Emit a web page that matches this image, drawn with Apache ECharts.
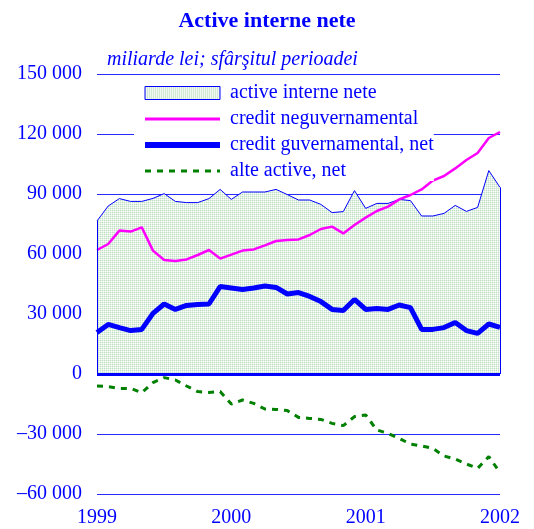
<!DOCTYPE html>
<html>
<head>
<meta charset="utf-8">
<script src="https://cdn.jsdelivr.net/npm/echarts@6/dist/echarts.min.js"></script>
<style>
html, body { margin: 0; padding: 0; background: #fff; }
#main { width: 534px; height: 529px; }
</style>
</head>
<body>
<div id="main"></div>
<script>
// luni: ian 1999 ... ian 2002
var months = [
	'1999-01', '1999-02', '1999-03', '1999-04', '1999-05', '1999-06', '1999-07', '1999-08', '1999-09', '1999-10', '1999-11', '1999-12',
	'2000-01', '2000-02', '2000-03', '2000-04', '2000-05', '2000-06', '2000-07', '2000-08', '2000-09', '2000-10', '2000-11', '2000-12',
	'2001-01', '2001-02', '2001-03', '2001-04', '2001-05', '2001-06', '2001-07', '2001-08', '2001-09', '2001-10', '2001-11', '2001-12',
	'2002-01'
];
var yTicks = [-60000, -30000, 0, 30000, 60000, 90000, 120000, 150000];

var activeNete = [76500, 84000, 87700, 86300, 86300, 87800, 90200, 86300, 85700, 85700, 87700, 92300,
	87300, 91000, 91000, 91000, 92300, 89700, 87000, 87000, 84800, 80700, 81200, 91700,
	82800, 85300, 85300, 87300, 86700, 79000, 79000, 80300, 84300, 81300, 83300, 101700, 93300];
var creditNeguv = [62000, 65000, 71700, 71200, 73300, 61700, 57000, 56500, 57300, 59500, 62000, 57700,
	59700, 61700, 62300, 64300, 66500, 67000, 67300, 69500, 72500, 73700, 70300, 74500,
	78200, 81500, 83700, 87300, 89500, 92300, 96700, 99000, 102800, 107000, 110500, 118000, 121000];
var creditGuv = [20700, 24800, 23200, 21700, 22300, 30300, 35000, 32300, 34300, 34800, 35000, 43700,
	43000, 42300, 43000, 44000, 43300, 40000, 40700, 38800, 36200, 32300, 31700, 37300,
	32300, 32800, 32300, 34500, 33200, 22300, 22300, 23200, 25800, 21700, 20300, 25000, 23300];
var alteActive = [-6000, -6300, -7200, -7200, -9300, -4300, -1800, -3000, -6000, -8800, -9200, -8800,
	-15000, -13000, -14700, -17500, -17700, -18300, -21700, -22200, -22700, -24700, -25800, -21300,
	-20500, -28000, -29700, -32200, -35000, -36000, -37200, -41000, -42500, -45000, -47200, -41300, -49300];

var names = ['active interne nete', 'credit neguvernamental', 'credit guvernamental, net', 'alte active, net'];

var blue = '#0000ff';
var serif = 'Liberation Serif';

// textura punctata pentru aria verde
var pc = document.createElement('canvas');
pc.width = 2;
pc.height = 2;
var pctx = pc.getContext('2d');
pctx.fillStyle = '#e4f2e5';
pctx.fillRect(0, 0, 2, 2);
pctx.fillStyle = '#bfe0c2';
pctx.fillRect(0, 0, 1, 1);
pctx.fillStyle = '#ffffff';
pctx.fillRect(1, 1, 1, 1);
var dots = { image: pc, repeat: 'repeat' };

function fmt(v) {
	var s = String(Math.abs(v));
	if (s.length > 3) {
		s = s.slice(0, s.length - 3) + ' ' + s.slice(s.length - 3);
	}
	return (v < 0 ? '\u2013' : '') + s;
}

var last = months.length - 1;
var noSymbol = { opacity: 0 };

var chart = echarts.init(document.getElementById('main'));
var option = {
	animation: false,
	title: [
		{
			text: 'Active interne nete',
			left: 'center',
			top: 5,
			textStyle: { fontFamily: serif, fontWeight: 'bold', fontSize: 22, color: blue }
		},
		{
			text: 'miliarde lei; sf\u00e2r\u015fitul perioadei',
			left: 102,
			top: 45,
			textStyle: { fontFamily: serif, fontStyle: 'italic', fontWeight: 'normal', fontSize: 20, color: blue }
		}
	],
	legend: {
		orient: 'vertical',
		left: 134,
		top: 80,
		padding: [3, 0, 0, 8],
		backgroundColor: '#fff',
		itemWidth: 75,
		itemHeight: 13,
		itemGap: 6,
		textStyle: { fontFamily: serif, fontSize: 20, color: blue, padding: [0, 0, 0, 5] },
		data: [
			{ name: names[0], icon: 'rect', itemStyle: { color: dots, borderColor: blue, borderWidth: 1 } },
			{ name: names[1], itemStyle: noSymbol, lineStyle: { width: 3 } },
			{ name: names[2], itemStyle: noSymbol, lineStyle: { width: 6 } },
			{ name: names[3], itemStyle: noSymbol, lineStyle: { width: 3 } }
		]
	},
	grid: { left: 97, right: 34, top: 74, bottom: 35 },
	xAxis: {
		type: 'category',
		data: months,
		boundaryGap: false,
		axisLine: { show: false },
		axisTick: { show: false },
		axisLabel: {
			interval: 11,
			margin: 14,
			fontFamily: serif,
			fontSize: 20,
			color: blue,
			formatter: function (v) { return v.slice(0, 4); }
		},
		splitLine: { show: false }
	},
	yAxis: {
		type: 'value',
		min: yTicks[0],
		max: yTicks[yTicks.length - 1],
		interval: 30000,
		axisLine: { show: false },
		axisTick: { show: false },
		axisLabel: { margin: 15, fontFamily: serif, fontSize: 20, color: blue, formatter: fmt },
		splitLine: { lineStyle: { color: '#2a2aff', width: 1 } }
	},
	series: [
		{
			name: names[0],
			type: 'line',
			data: activeNete,
			symbol: 'none',
			lineStyle: { color: blue, width: 1 },
			itemStyle: { color: blue },
			areaStyle: { color: dots, opacity: 1 },
			markLine: {
				silent: true,
				symbol: 'none',
				label: { show: false },
				lineStyle: { color: blue, type: 'solid', width: 1 },
				data: [
					{ yAxis: 0, lineStyle: { width: 3 } },
					[{ coord: [months[0], 0] }, { coord: [months[0], activeNete[0]] }],
					[{ coord: [months[last], 0] }, { coord: [months[last], activeNete[last]] }]
				]
			}
		},
		{
			name: names[1],
			type: 'line',
			data: creditNeguv,
			symbol: 'none',
			lineStyle: { color: '#ff00ff', width: 2.5 },
			itemStyle: { color: '#ff00ff' }
		},
		{
			name: names[2],
			type: 'line',
			data: creditGuv,
			symbol: 'none',
			lineStyle: { color: blue, width: 5 },
			itemStyle: { color: blue }
		},
		{
			name: names[3],
			type: 'line',
			data: alteActive,
			symbol: 'none',
			lineStyle: { color: '#008000', width: 3, type: [6, 6] },
			itemStyle: { color: '#008000' }
		}
	]
};
chart.setOption(option);
</script>
</body>
</html>
